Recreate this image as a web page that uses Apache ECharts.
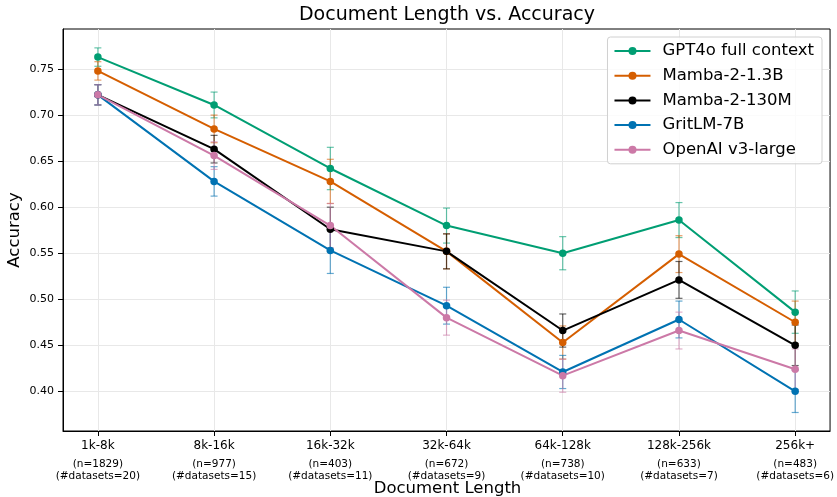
<!DOCTYPE html>
<html><head><meta charset="utf-8">
<script src="https://cdn.jsdelivr.net/npm/echarts@6/dist/echarts.min.js"></script>
<style>html,body{margin:0;padding:0;background:#fff}#c{width:837px;height:497px}</style>
</head><body><div id="c"></div>
<script>
const categories = ['1k-8k','8k-16k','16k-32k','32k-64k','64k-128k','128k-256k','256k+'];
const sampleCounts = [1829,977,403,672,738,633,483];
const datasetCounts = [20,15,11,9,10,7,6];
const yTicks = [0.40,0.45,0.50,0.55,0.60,0.65,0.70,0.75];
const xTicks = [0,1,2,3,4,5,6];
const seriesNames = ['GPT4o full context','Mamba-2-1.3B','Mamba-2-130M','GritLM-7B','OpenAI v3-large'];
const seriesColors = ['#009E73','#D55E00','#000000','#0072B2','#CC79A7'];
const gpt4oAcc = [0.763,0.711,0.642,0.580,0.550,0.586,0.486];
const gpt4oErr = [0.010,0.014,0.023,0.019,0.018,0.019,0.023];
const mamba13Acc = [0.748,0.685,0.628,0.552,0.453,0.549,0.475];
const mamba13Err = [0.010,0.015,0.024,0.019,0.018,0.020,0.023];
const mamba130Acc = [0.722,0.663,0.576,0.552,0.466,0.521,0.450];
const mamba130Err = [0.011,0.015,0.024,0.019,0.018,0.020,0.022];
const gritAcc = [0.722,0.628,0.553,0.493,0.421,0.478,0.400];
const gritErr = [0.011,0.016,0.025,0.020,0.018,0.020,0.023];
const openaiAcc = [0.722,0.656,0.580,0.480,0.417,0.466,0.424];
const openaiErr = [0.011,0.015,0.024,0.019,0.018,0.020,0.022];

const accs = [gpt4oAcc, mamba13Acc, mamba130Acc, gritAcc, openaiAcc];
const errs = [gpt4oErr, mamba13Err, mamba130Err, gritErr, openaiErr];
const FONT = 'DejaVu Sans';

function hexToRgba(hex, a){
  const n = parseInt(hex.slice(1),16);
  return `rgba(${(n>>16)&255},${(n>>8)&255},${n&255},${a})`;
}

const series = [];
seriesNames.forEach((name, k) => {
  const color = seriesColors[k];
  const acc = accs[k], err = errs[k];
  series.push({
    type:'custom', name: name + ' err', silent:true,
    data: acc.map((v,i)=>[i, v-err[i], v+err[i]]),
    encode:{x:0, y:[1,2]},
    renderItem(params, api){
      const x = api.value(0);
      const lo = api.coord([x, api.value(1)]);
      const hi = api.coord([x, api.value(2)]);
      const w = 3.5;
      const style = {stroke: hexToRgba(color, 0.6), lineWidth: 1.2};
      return {type:'group', children:[
        {type:'line', shape:{x1:lo[0],y1:lo[1],x2:hi[0],y2:hi[1]}, style},
        {type:'line', shape:{x1:lo[0]-w,y1:lo[1],x2:lo[0]+w,y2:lo[1]}, style},
        {type:'line', shape:{x1:hi[0]-w,y1:hi[1],x2:hi[0]+w,y2:hi[1]}, style}
      ]};
    }
  });
  series.push({
    type:'line', name, color,
    data: acc.map((v,i)=>[i,v]),
    symbol:'circle', symbolSize:7.5,
    lineStyle:{width:2, color},
    itemStyle:{color},
    animation:false
  });
});

const chart = echarts.init(document.getElementById('c'), null, {renderer:'canvas'});
chart.setOption({
  animation:false,
  backgroundColor:'#fff',
  grid:{left:63, right:5, top:29, bottom:66, show:true, borderColor:'#000', borderWidth:1, containLabel:false},
  xAxis:{
    type:'value', min:-0.3, max:6.3,
    axisLine:{show:true, onZero:false, lineStyle:{color:'#000', width:1}},
    axisTick:{show:true, length:5, customValues:xTicks, lineStyle:{color:'#000'}},
    axisLabel:{
      customValues:xTicks, margin:2, color:'#000', fontFamily:FONT,
      formatter: v => { const i = Math.round(v); return `{a|${categories[i]}}\n{b|(n=${sampleCounts[i]})}\n{b|(#datasets=${datasetCounts[i]})}`; },
      rich:{
        a:{fontSize:12, lineHeight:25, fontFamily:FONT, color:'#000', align:'center'},
        b:{fontSize:10.5, lineHeight:12.4, fontFamily:FONT, color:'#000', align:'center'}
      }
    },
    splitLine:{show:true, lineStyle:{color:'#e8e8e8', width:1}}
  },
  yAxis:{
    type:'value', min:0.3569, max:0.7935,
    axisLine:{show:true, onZero:false, lineStyle:{color:'#000', width:1}},
    axisTick:{show:true, length:5, customValues:yTicks, lineStyle:{color:'#000'}},
    axisLabel:{customValues:yTicks, formatter: v => v.toFixed(2), fontSize:11, color:'#000', margin:9, fontFamily:FONT},
    splitLine:{show:true, lineStyle:{color:'#e8e8e8', width:1}}
  },
  legend:{
    data: seriesNames, orient:'vertical', right:15, top:37,
    itemWidth:36, itemHeight:10, itemGap:6.7,
    backgroundColor:'rgba(255,255,255,0.8)', borderColor:'#d0d0d0', borderWidth:1, borderRadius:3,
    padding:[5,8,5,6],
    textStyle:{fontFamily:FONT, fontSize:16.5, color:'#000', lineHeight:18, padding:[0,0,0,7]}
  },
  graphic:[
    {type:'text', x:447, y:15.5, style:{text:'Document Length vs. Accuracy', fontSize:19, fontFamily:FONT, fill:'#000', align:'center', verticalAlign:'middle'}},
    {type:'text', x:447.5, y:489, style:{text:'Document Length', fontSize:16.5, fontFamily:FONT, fill:'#000', align:'center', verticalAlign:'middle'}},
    {type:'text', x:15, y:230, rotation:Math.PI/2, style:{text:'Accuracy', fontSize:16.5, fontFamily:FONT, fill:'#000', align:'center', verticalAlign:'middle'}}
  ],
  series
});
</script></body></html>
